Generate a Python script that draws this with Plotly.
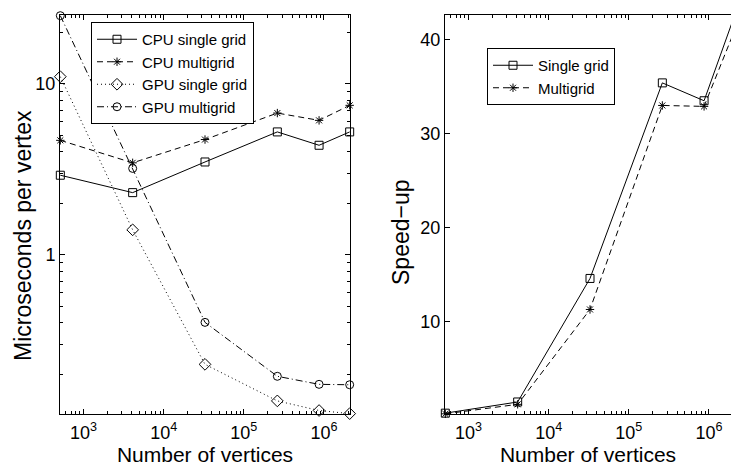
import numpy as np
import plotly.graph_objects as go

W, H = 731, 470

# ---- data ----
vertices = [512, 4096, 32768, 262144, 870000, 2097152]
cpu_single = [2.92, 2.31, 3.49, 5.23, 4.37, 5.23]
cpu_multi = [4.67, 3.45, 4.72, 6.74, 6.11, 7.48]
gpu_single = [11.0, 1.40, 0.229, 0.140, 0.123, 0.118]
gpu_multi = [25.0, 3.20, 0.403, 0.195, 0.175, 0.174]
speedup_single = [0.27, 1.46, 14.6, 35.4, 33.5, 42.6]
speedup_multi = [0.2, 1.21, 11.3, 33.0, 32.9, 41.0]

xtick_vals = [1e3, 1e4, 1e5, 1e6]
xtick_text = ["10<sup>3</sup>", "10<sup>4</sup>", "10<sup>5</sup>", "10<sup>6</sup>"]
ytick_vals_left = [1, 10]
ytick_text_left = ["1", "10"]
ytick_vals_right = [10, 20, 30, 40]

FONT = "Liberation Sans, Arial, Helvetica, sans-serif"
TICK = 18
XTITLE = 21
YTITLE = 23
LEG = 15

def px_x(p):
    return p / W

def px_y(p):
    return 1 - p / H

fig = go.Figure()

def add(x, y, name, dash, symbol, size, xa, ya, leg):
    fig.add_trace(go.Scatter(x=x, y=y, name=name, mode="lines+markers",
                             line=dict(color="black", width=1, dash=dash),
                             marker=dict(symbol=symbol, size=size, color="black", line=dict(width=1)),
                             xaxis=xa, yaxis=ya, legend=leg, cliponaxis=False))

add(vertices, cpu_single, "CPU single grid", "solid", "square-open", 8, "x", "y", "legend")
add(vertices, cpu_multi, "CPU multigrid", "6px,4px", "asterisk-open", 7, "x", "y", "legend")
add(vertices, gpu_single, "GPU single grid", "1px,3px", "diamond-open", 9, "x", "y", "legend")
add(vertices, gpu_multi, "GPU multigrid", "7px,3px,1px,3px", "circle-open", 8, "x", "y", "legend")
add(vertices, speedup_single, "Single grid", "solid", "square-open", 8, "x2", "y2", "legend2")
add(vertices, speedup_multi, "Multigrid", "6px,4px", "asterisk-open", 7, "x2", "y2", "legend2")

minor_x = [m * 10 ** e for e in range(2, 7) for m in range(2, 10)]
minor_y = [m * 10 ** e for e in range(-1, 2) for m in range(2, 10)]

xlo, xhi = np.log10(512) - 0.004, np.log10(2097152) + 0.004
xhi_right = xlo + (W - 445) / ((350 - 60) / (xhi - xlo))
ylo, yhi = np.log10(0.118) - 0.004, np.log10(25) + 0.004

xaxis_common = dict(type="log", showgrid=False, zeroline=False, showline=True, linecolor="black",
                    linewidth=1, ticks="inside", ticklen=5, tickcolor="black",
                    tickvals=xtick_vals, ticktext=xtick_text, ticklabelstandoff=2,
                    tickfont=dict(family=FONT, size=TICK, color="black"),
                    minor=dict(tickvals=minor_x, ticks="inside", ticklen=3, tickcolor="black"),
                    title=dict(text="Number of vertices", font=dict(family=FONT, size=XTITLE, color="black"), standoff=2))

fig.update_layout(
    width=W, height=H,
    margin=dict(l=0, r=0, t=0, b=0),
    paper_bgcolor="white", plot_bgcolor="white",
    showlegend=True,
    xaxis=dict(domain=[px_x(60), px_x(350)], range=[xlo, xhi], anchor="y", mirror="ticks", **xaxis_common),
    yaxis=dict(domain=[px_y(414.3), px_y(15)], type="log", range=[ylo, yhi],
               anchor="x", showgrid=False, zeroline=False, showline=True, linecolor="black", linewidth=1,
               mirror="ticks", ticks="inside", ticklen=5, tickcolor="black",
               tickvals=ytick_vals_left, ticktext=ytick_text_left,
               tickfont=dict(family=FONT, size=TICK, color="black"),
               minor=dict(tickvals=minor_y, ticks="inside", ticklen=3, tickcolor="black")),
    xaxis2=dict(domain=[px_x(445), 1.0], range=[xlo, xhi_right], anchor="y2", mirror="ticks", **xaxis_common),
    yaxis2=dict(domain=[px_y(414.3), px_y(15)], range=[0.15, 42.62], anchor="x2",
                showgrid=False, zeroline=False, showline=True, linecolor="black", linewidth=1,
                ticks="inside", ticklen=5, tickcolor="black", tickvals=ytick_vals_right,
                tickfont=dict(family=FONT, size=TICK, color="black")),
    legend=dict(x=px_x(91), y=px_y(22), xanchor="left", yanchor="top", bgcolor="white",
                bordercolor="black", borderwidth=1, font=dict(family=FONT, size=LEG, color="black"),
                tracegroupgap=0, itemwidth=40),
    legend2=dict(x=px_x(487), y=px_y(48), xanchor="left", yanchor="top", bgcolor="white",
                 bordercolor="black", borderwidth=1, font=dict(family=FONT, size=LEG, color="black"),
                 tracegroupgap=0, itemwidth=40),
    annotations=[
        dict(text="Microseconds per vertex", textangle=-90, xref="paper", yref="paper",
             x=px_x(23), y=px_y(236), xanchor="center", yanchor="middle", showarrow=False,
             font=dict(family=FONT, size=YTITLE, color="black")),
        dict(text="Speed\u2212up", textangle=-90, xref="paper", yref="paper",
             x=px_x(401), y=px_y(232), xanchor="center", yanchor="middle", showarrow=False,
             font=dict(family=FONT, size=YTITLE, color="black")),
    ],
)

fig.write_html("out.html")
